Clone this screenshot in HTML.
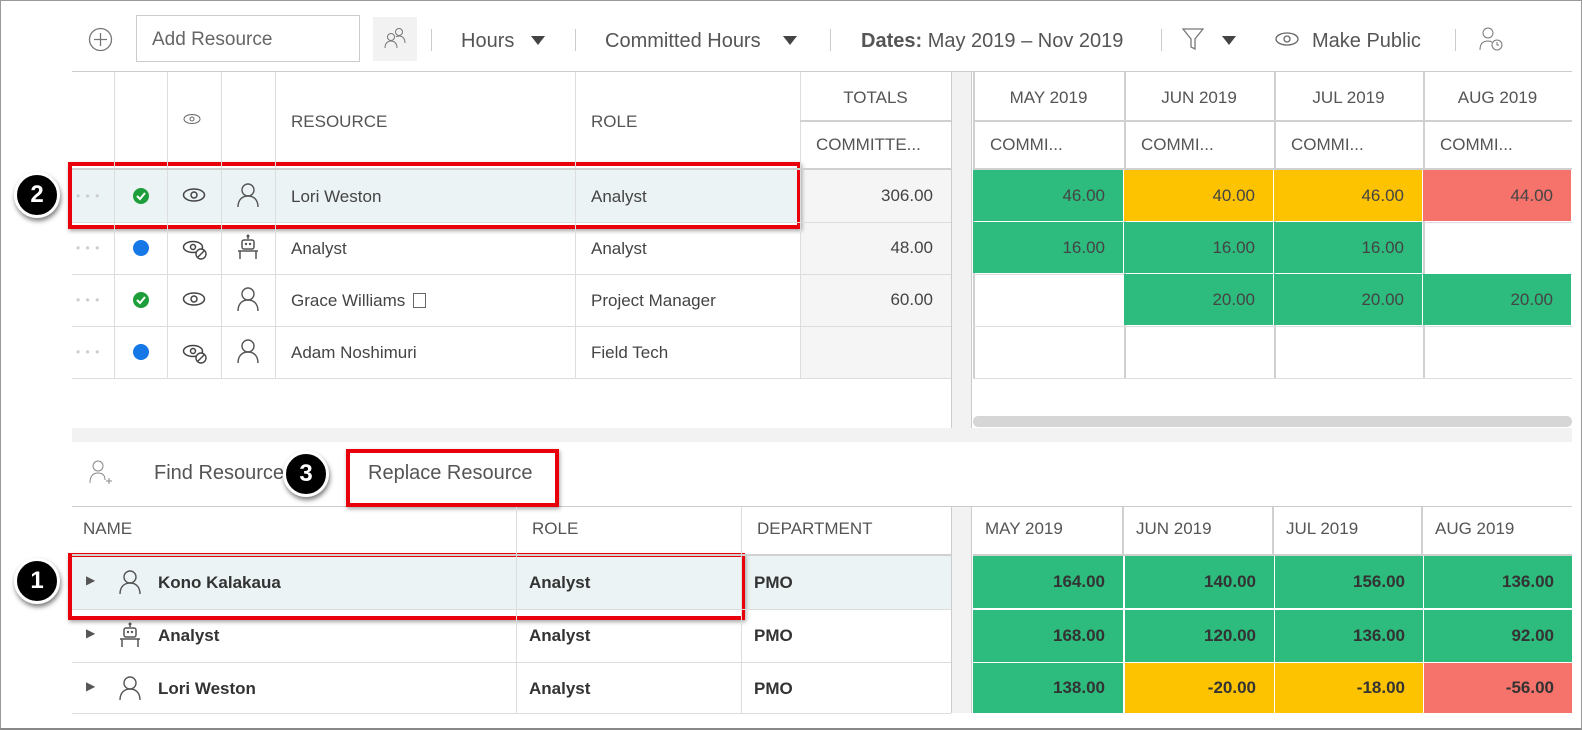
<!DOCTYPE html>
<html><head><meta charset="utf-8">
<style>
*{box-sizing:border-box;margin:0;padding:0}
body{width:1582px;height:730px;background:#fff;position:relative;overflow:hidden;font-family:"Liberation Sans",sans-serif;color:#444}
.a{position:absolute}
.t{position:absolute;white-space:nowrap;line-height:1}
.hl{position:absolute;height:1px;background:#ddd}
.vl{position:absolute;width:1px;background:#ddd}
.cell{position:absolute;font-size:17px;text-align:right;padding-right:18px;display:flex;align-items:center;justify-content:flex-end}
.red{position:absolute;border:4px solid #e8000b;box-shadow:1px 2px 4px rgba(0,0,0,.35)}
.badge{position:absolute;width:46px;height:46px;border-radius:50%;background:#000;border:3px solid #fff;box-shadow:1px 3px 5px rgba(0,0,0,.5);color:#fff;font:bold 24px "Liberation Sans",sans-serif;display:flex;align-items:center;justify-content:center}
.sep{position:absolute;width:1px;height:22px;background:#ccc;top:29px}
.tri{position:absolute;width:0;height:0;border-left:7px solid transparent;border-right:7px solid transparent;border-top:9px solid #444;top:36px}
</style></head><body>
<div class="a" style="left:0;top:0;width:1582px;height:730px;border:1px solid #999;border-bottom:2px solid #888"></div>

<!-- toolbar -->
<svg class="a" style="left:88px;top:27px" width="25" height="25"><circle cx="12.5" cy="12.5" r="11" fill="none" stroke="#777" stroke-width="1.3"/><path d="M12.5 6v13M6 12.5h13" stroke="#777" stroke-width="1.3"/></svg>
<div class="a" style="left:136px;top:15px;width:224px;height:47px;border:1px solid #ccc"></div>
<div class="t" style="left:152px;top:30px;font-size:19px;color:#666">Add Resource</div>
<div class="a" style="left:373px;top:17px;width:44px;height:44px;background:#f2f2f2"></div>
<svg class="a" style="left:383px;top:26px" width="24" height="24"><circle cx="8" cy="11" r="3.5" fill="none" stroke="#777"/><path d="M2 22c0-5 3-7 6-7s6 2 6 7" fill="none" stroke="#777"/><circle cx="16" cy="6" r="3.5" fill="none" stroke="#777"/><path d="M13 11c1-1 2-1 3-1 3 0 6 2 6 7" fill="none" stroke="#777"/></svg>
<div class="sep" style="left:431px"></div>
<div class="t" style="left:461px;top:31px;font-size:20px;color:#555">Hours</div>
<div class="tri" style="left:531px"></div>
<div class="sep" style="left:575px"></div>
<div class="t" style="left:605px;top:31px;font-size:20px;color:#555">Committed Hours</div>
<div class="tri" style="left:783px"></div>
<div class="sep" style="left:830px"></div>
<div class="t" style="left:861px;top:31px;font-size:20px;color:#555"><b>Dates:</b> May 2019 – Nov 2019</div>
<div class="sep" style="left:1161px"></div>
<svg class="a" style="left:1182px;top:27px" width="22" height="24"><path d="M1 2h20l-8 10v10l-4-2v-8z" fill="none" stroke="#777" stroke-width="1.3"/></svg>
<div class="tri" style="left:1222px"></div>
<svg class="a" style="left:1275px;top:32px" width="24" height="14"><ellipse cx="12" cy="7" rx="11" ry="6" fill="none" stroke="#666" stroke-width="1.3"/><circle cx="12" cy="7" r="3" fill="none" stroke="#666" stroke-width="1.3"/></svg>
<div class="t" style="left:1312px;top:31px;font-size:20px;color:#555">Make Public</div>
<div class="sep" style="left:1455px"></div>
<svg class="a" style="left:1479px;top:26px" width="26" height="26"><circle cx="9" cy="7" r="5" fill="none" stroke="#777"/><path d="M1 24c0-6 3-9 8-9 2 0 3 .5 4 1" fill="none" stroke="#777"/><circle cx="18" cy="19" r="5" fill="none" stroke="#777"/><path d="M18 16v3h2" stroke="#777" fill="none"/></svg>

<!-- top grid -->
<div class="hl" style="left:72px;top:71px;width:1500px;background:#ccc"></div>
<div class="a" style="left:800px;top:169px;width:151px;height:209px;background:#f5f5f5"></div>
<div class="a" style="left:72px;top:170px;width:728px;height:52px;background:#ecf3f5"></div>
<div class="a" style="left:951px;top:72px;width:21px;height:356px;background:#f2f2f2;border-left:1px solid #ccc;border-right:1px solid #ccc"></div>
<div class="a" style="left:973px;top:416px;width:599px;height:11px;background:#d6d6d6;border-radius:5px"></div>
<div class="a" style="left:72px;top:428px;width:1500px;height:14px;background:#f2f2f2"></div>

<div class="t" style="left:183px;top:113px"><svg width="18" height="12"><ellipse cx="9" cy="6" rx="8" ry="4.5" fill="none" stroke="#666"/><circle cx="9" cy="6" r="2" fill="none" stroke="#666"/></svg></div>
<div class="t" style="left:291px;top:113px;font-size:17px;color:#555">RESOURCE</div>
<div class="t" style="left:591px;top:113px;font-size:17px;color:#555">ROLE</div>
<div class="t" style="left:800px;width:151px;text-align:center;top:89px;font-size:17px;color:#555">TOTALS</div>
<div class="t" style="left:816px;top:136px;font-size:17px;color:#555">COMMITTE...</div>

<div id="top"></div>

<!-- bottom section -->
<svg class="a" style="left:88px;top:459px" width="26" height="26"><circle cx="10" cy="7" r="5" fill="none" stroke="#888"/><path d="M2 24c0-7 3-10 8-10s7 3 7 7" fill="none" stroke="#888"/><path d="M21 19v6M18 22h6" stroke="#888"/></svg>
<div class="t" style="left:154px;top:463px;font-size:20px;color:#555">Find Resource</div>
<div class="t" style="left:368px;top:463px;font-size:20px;color:#555">Replace Resource</div>
<div class="hl" style="left:72px;top:506px;width:1500px;background:#ccc"></div>
<div class="a" style="left:951px;top:507px;width:21px;height:206px;background:#f2f2f2;border-left:1px solid #ccc;border-right:1px solid #ccc"></div>
<div class="a" style="left:72px;top:556px;width:879px;height:53px;background:#ecf3f5"></div>
<div class="t" style="left:83px;top:520px;font-size:17px;color:#555">NAME</div>
<div class="t" style="left:532px;top:520px;font-size:17px;color:#555">ROLE</div>
<div class="t" style="left:757px;top:520px;font-size:17px;color:#555">DEPARTMENT</div>
<div id="bot"></div>

<!-- annotations -->
<div class="red" style="left:68px;top:162px;width:733px;height:67px"></div>
<div class="red" style="left:68px;top:553px;width:677px;height:67px"></div>
<div class="red" style="left:346px;top:449px;width:213px;height:58px"></div>
<div class="badge" style="left:14px;top:172px">2</div>
<div class="badge" style="left:14px;top:558px">1</div>
<div class="badge" style="left:283px;top:451px">3</div>

<script>
// ---- top grid data ----
const months = ["MAY 2019","JUN 2019","JUL 2019","AUG 2019"];
const topNames = ["Lori Weston","Analyst","Grace Williams","Adam Noshimuri"];
const topRoles = ["Analyst","Analyst","Project Manager","Field Tech"];
const topTotals = ["306.00","48.00","60.00",""];
const topStatus = ["ok","dot","ok","dot"];
const topVisible = [true,false,true,false];
const topKind = ["person","robot","person","person"];
const topValues = [[46,40,46,44],[16,16,16,null],[null,20,20,20],[null,null,null,null]];
const topColors = [["g","y","y","r"],["g","g","g",""],["","g","g","g"],["","","",""]];
// ---- bottom grid data ----
const botNames = ["Kono Kalakaua","Analyst","Lori Weston"];
const botRoles = ["Analyst","Analyst","Analyst"];
const botDepts = ["PMO","PMO","PMO"];
const botKind = ["person","robot","person"];
const botValues = [[164,140,156,136],[168,120,136,92],[138,-20,-18,-56]];
const botColors = [["g","g","g","g"],["g","g","g","g"],["g","y","y","r"]];

const COL = {g:"#2dbb7e",y:"#fdc300",r:"#f6736b"};
const monthX = [973,1124,1274,1423,1572];
const person = '<svg width="24" height="26"><circle cx="12" cy="8" r="6" fill="none" stroke="#555" stroke-width="1.4"/><path d="M2 25c0-7 4-11 10-11s10 4 10 11" fill="none" stroke="#555" stroke-width="1.4"/></svg>';
const robot = '<svg width="24" height="26"><path d="M12 1v4" stroke="#555" stroke-width="1.5"/><circle cx="12" cy="2" r="1.5" fill="#555"/><rect x="6" y="6" width="12" height="9" rx="2" fill="none" stroke="#555" stroke-width="1.5"/><circle cx="10" cy="10" r="1.2" fill="#555"/><circle cx="14" cy="10" r="1.2" fill="#555"/><path d="M2 17h20M4 17v8M20 17v8" stroke="#555" stroke-width="1.5" fill="none"/></svg>';
const eye = '<svg width="24" height="16"><ellipse cx="12" cy="8" rx="10.5" ry="6" fill="none" stroke="#444" stroke-width="1.5"/><circle cx="12" cy="8" r="3" fill="none" stroke="#444" stroke-width="1.5"/></svg>';
const eyeOff = '<svg width="26" height="22"><ellipse cx="11" cy="8" rx="9.5" ry="5.5" fill="none" stroke="#444" stroke-width="1.5"/><circle cx="11" cy="8" r="2.5" fill="none" stroke="#444" stroke-width="1.5"/><circle cx="19" cy="15" r="5" fill="#fff" stroke="#444" stroke-width="1.4"/><path d="M16 18l6-6" stroke="#444" stroke-width="1.4"/></svg>';
const check = '<svg width="18" height="18"><circle cx="9" cy="9" r="8" fill="#1e9e3a"/><path d="M5 9l3 3 5-6" stroke="#fff" stroke-width="2" fill="none"/></svg>';
const blue = '<svg width="18" height="18"><circle cx="9" cy="9" r="8" fill="#1677e6"/></svg>';

function add(parent, cls, style, html, name, inter){
  const d=document.createElement('div');
  d.className=cls; d.style.cssText=style; if(html!==undefined) d.innerHTML=html;
  if(name){
    
    
  }
  document.body.appendChild(d); return d;
}
function fmt(v){return v.toFixed(2);}

const rowTop=[170,222,274,326,378];
[114,167,221,275,575,800].forEach(x=>add(0,'vl',`left:${x}px;top:72px;height:306px`));
add(0,'vl','left:951px;top:72px;height:306px;background:#ccc');
monthX.slice(0,4).forEach(x=>add(0,'vl',`left:${x}px;top:72px;height:306px;width:2px;background:#d0d0d0`));
add(0,'hl','left:800px;top:120px;width:151px;height:2px;background:#d0d0d0');
add(0,'hl','left:973px;top:120px;width:599px;height:2px;background:#d0d0d0');
add(0,'hl','left:72px;top:168px;width:879px;height:2px;background:#d0d0d0');
add(0,'hl','left:973px;top:168px;width:599px;height:2px;background:#d0d0d0');
rowTop.slice(1).forEach(y=>{add(0,'hl',`left:72px;top:${y}px;width:879px`);add(0,'hl',`left:973px;top:${y}px;width:599px`);});
months.forEach((m,i)=>{
  add(0,'t',`left:${monthX[i]}px;width:${monthX[i+1]-monthX[i]}px;text-align:center;top:89px;font-size:17px;color:#555`,m,'month-header-'+i,false);
  add(0,'t',`left:${monthX[i]+17}px;top:136px;font-size:17px;color:#555`,'COMMI...','month-committed-header-'+i,false);
});
topNames.forEach((n,r)=>{
  const y=rowTop[r], h=52;
  add(0,'t',`left:76px;top:${y+20}px;font-size:12px;color:#ccc;letter-spacing:1px`,'• • •','row-menu-'+r,true);
  add(0,'t',`left:132px;top:${y+17}px`,topStatus[r]==='ok'?check:blue,'status-icon-'+r,false);
  add(0,'t',`left:182px;top:${y+17}px`,topVisible[r]?eye:eyeOff,'visibility-icon-'+r,true);
  add(0,'t',`left:236px;top:${y+12}px`,topKind[r]==='person'?person:robot,'resource-type-icon-'+r,false);
  add(0,'t',`left:291px;top:${y+18}px;font-size:17px`,n+(r===2?' <span style="display:inline-block;width:13px;height:15px;border:1px solid #666;vertical-align:-2px;margin-left:3px"></span>':''),'resource-name-'+r,true);
  add(0,'t',`left:591px;top:${y+18}px;font-size:17px`,topRoles[r],'resource-role-'+r,false);
  add(0,'cell',`left:800px;top:${y}px;width:151px;height:${h}px`,topTotals[r],'total-'+r,false);
  topValues[r].forEach((v,c)=>{
    if(v===null) return;
    add(0,'cell',`left:${monthX[c]}px;top:${y}px;width:${monthX[c+1]-monthX[c]-1}px;height:${h-1}px;background:${COL[topColors[r][c]]}`,fmt(v),'heat-cell-top-'+r+'-'+c,true);
  });
});

const rowBot=[556,609,662,713];
add(0,'vl','left:516px;top:507px;height:206px');
add(0,'vl','left:741px;top:507px;height:206px');
monthX.slice(1,4).forEach(x=>add(0,'vl',`left:${x-2}px;top:507px;height:49px;width:2px;background:#d0d0d0`));
add(0,'hl','left:72px;top:554px;width:879px;height:2px;background:#d0d0d0');
add(0,'hl','left:973px;top:554px;width:599px;height:2px;background:#d0d0d0');
months.forEach((m,i)=>add(0,'t',`left:${monthX[i]+12}px;top:520px;font-size:17px;color:#555`,m,'bottom-month-header-'+i,false));
botNames.forEach((n,r)=>{
  const y=rowBot[r], h=rowBot[r+1]-y;
  add(0,'hl',`left:72px;top:${rowBot[r+1]}px;width:879px`);
  add(0,'t',`left:86px;top:${y+18}px;font-size:12px;color:#555`,'▶','expand-arrow-'+r,true);
  add(0,'t',`left:118px;top:${y+13}px`,botKind[r]==='person'?person:robot,'candidate-icon-'+r,false);
  add(0,'t',`left:158px;top:${y+18}px;font-size:17px;font-weight:bold;color:#333`,n,'candidate-name-'+r,true);
  add(0,'t',`left:529px;top:${y+18}px;font-size:17px;font-weight:bold;color:#333`,botRoles[r],'candidate-role-'+r,false);
  add(0,'t',`left:754px;top:${y+18}px;font-size:17px;font-weight:bold;color:#333`,botDepts[r],'candidate-dept-'+r,false);
  botValues[r].forEach((v,c)=>{
    add(0,'cell',`left:${monthX[c]+(c?1:0)}px;top:${y+(r?1:0)}px;width:${monthX[c+1]-monthX[c]-1}px;height:${h-1}px;background:${COL[botColors[r][c]]};font-weight:bold;color:#333`,fmt(v),'heat-cell-bottom-'+r+'-'+c,true);
  });
});
</script>
</body></html>
